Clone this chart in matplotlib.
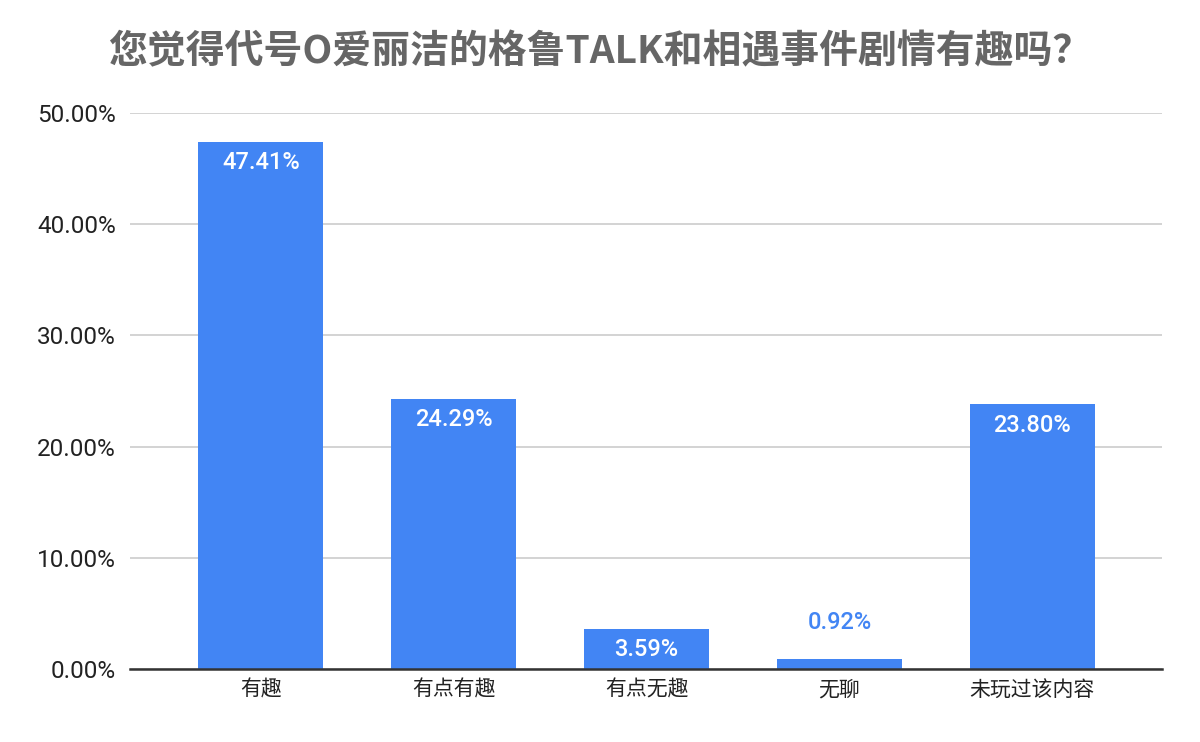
import numpy as np
import matplotlib.pyplot as plt

categories = ["有趣", "有点有趣", "有点无趣", "无聊", "未玩过该内容"]
values = [47.41, 24.29, 3.59, 0.92, 23.80]
yticks = [0, 10, 20, 30, 40, 50]

plt.rcParams['font.family'] = ['Roboto', 'Noto Sans CJK SC', 'DejaVu Sans']

fig = plt.figure(figsize=(12, 7.42), dpi=100)
ax = fig.add_axes([0.108, 0.0984, 0.860, 0.7493])

x = np.arange(len(categories))
bars = ax.bar(x, values, width=0.65, color="#4285F4", zorder=3)

ax.set_xlim(-0.68, len(categories) - 1 + 0.67)
ax.set_ylim(0, 50)
ax.set_yticks(yticks)
ax.set_yticklabels([f"{v:.2f}%" for v in yticks], fontsize=17.5, color="#222222")
ax.set_xticks(x)
ax.set_xticklabels(categories, fontsize=15, color="#222222",
                   family=['Noto Sans CJK SC', 'DejaVu Sans'])
ax.tick_params(length=0)
ax.tick_params(axis='y', pad=10)
ax.tick_params(axis='x', pad=7)

ax.grid(axis='y', color="#cccccc", linewidth=1.2, zorder=0)
for s in ["top", "right", "left"]:
    ax.spines[s].set_visible(False)
ax.spines["bottom"].set_color("#333333")
ax.spines["bottom"].set_linewidth(1.8)
ax.spines["bottom"].set_zorder(4)

for xi, v in zip(x, values):
    if v > 3:
        ax.annotate(f"{v:.2f}%", (xi, v), xytext=(0, -15), textcoords="offset points",
                    ha="center", va="center", color="white", fontsize=17,
                    fontweight="medium", zorder=5)
    else:
        ax.annotate(f"{v:.2f}%", (xi, v), xytext=(0, 26), textcoords="offset points",
                    ha="center", va="center", color="#4285F4", fontsize=17,
                    fontweight="medium", zorder=5)

fig.text(0.5, 0.93, "您觉得代号O爱丽洁的格鲁TALK和相遇事件剧情有趣吗？",
         ha="center", va="center", fontsize=28, fontweight="bold", color="#666666",
         family=['Noto Sans CJK SC', 'DejaVu Sans'])

fig.savefig("out.png", dpi=100)
